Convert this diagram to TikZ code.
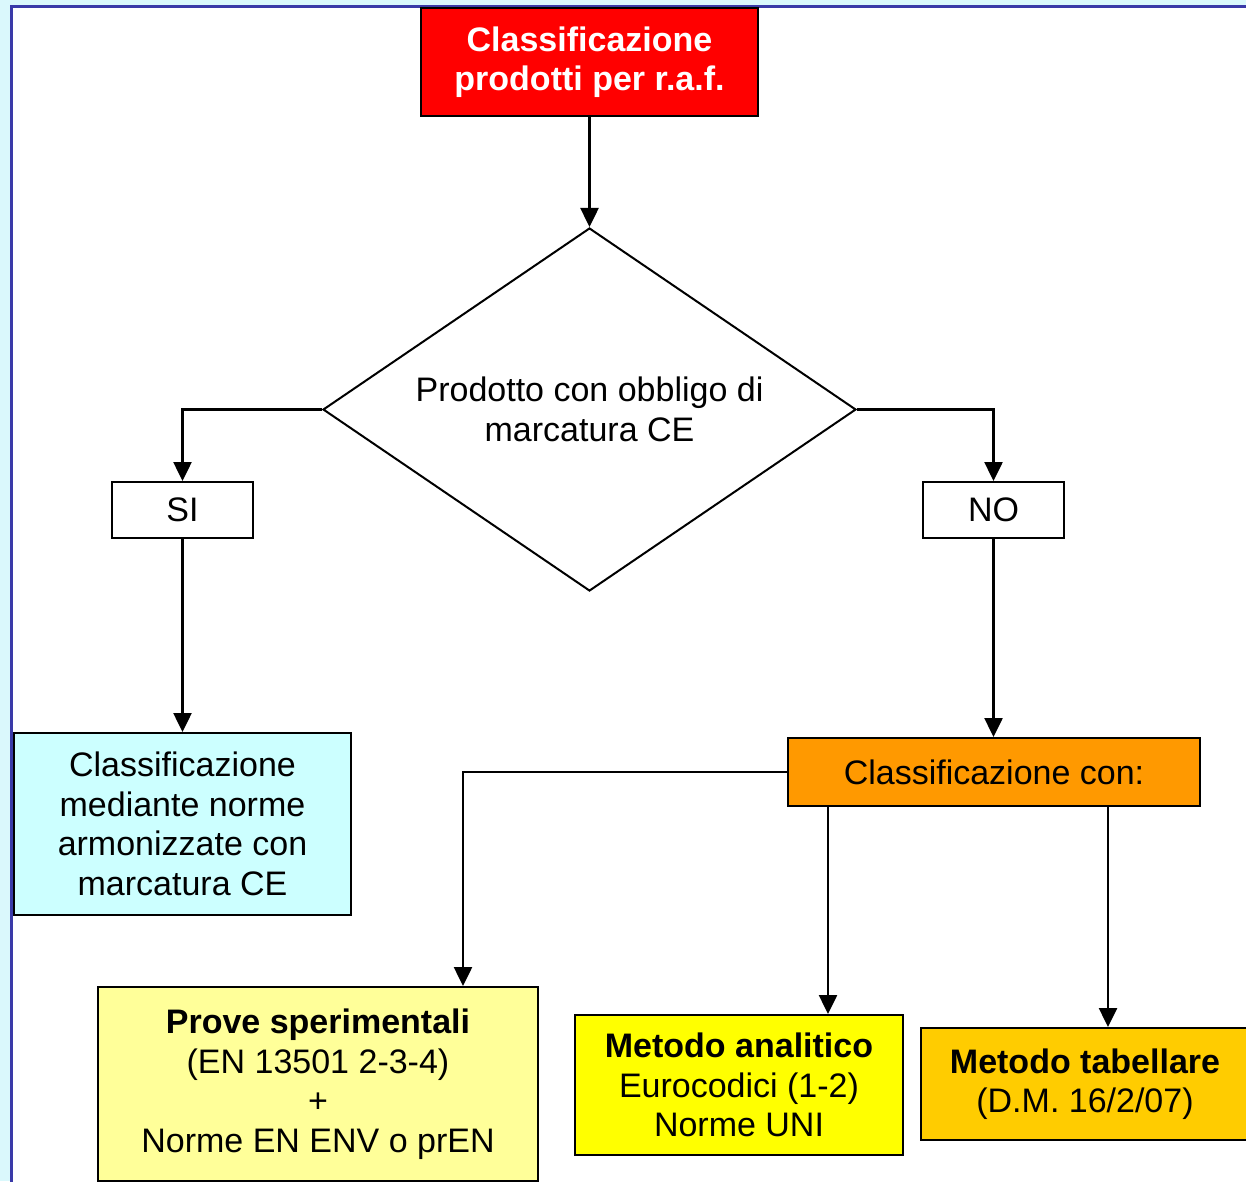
\documentclass[tikz,border=0pt]{standalone}
\usepackage{fontspec}
\setmainfont{Liberation Sans}
\usetikzlibrary{shapes.geometric,arrows.meta}
\definecolor{bgcyan}{HTML}{DAF8FC}
\definecolor{panelblue}{HTML}{3A3AA8}
\definecolor{boxcyan}{HTML}{CCFFFF}
\definecolor{boxorange}{HTML}{FF9900}
\definecolor{boxlight}{HTML}{FFFF99}
\definecolor{boxyellow}{HTML}{FFFF00}
\definecolor{boxgold}{HTML}{FFCC00}
\definecolor{boxred}{HTML}{FF0000}
\tikzset{
  txt/.style={font=\fontsize{34}{39.5}\selectfont, align=center, text=black},
  box/.style={txt, draw=black, line width=2pt, inner sep=0pt, rectangle},
  arr/.style={line width=2.5pt, -{Triangle[length=19pt,width=18pt]}},
  ln/.style={line width=2.5pt}
}
\begin{document}
\begin{tikzpicture}[x=1pt,y=-1pt]
\path[use as bounding box] (0,0) rectangle (1246,1181);
\clip (0,0) rectangle (1246,1181);
\fill[bgcyan] (0,0) rectangle (1246,1181);
\draw[panelblue, fill=white, line width=2.5pt] (11.5,1200) -- (11.5,6.5) -- (1260,6.5) -- (1260,1200) -- cycle;

\node[box, fill=boxred, text=white, font=\fontsize{34}{39.5}\selectfont\bfseries, minimum width=337, minimum height=108] (raf) at (589.5,62) {Classificazione\\prodotti per r.a.f.};
\node[txt, draw=black, line width=2pt, shape=diamond, aspect=1.47, inner sep=0pt, minimum width=533, minimum height=363] (dia) at (589.5,409.5) {Prodotto con obbligo di\\marcatura CE};
\node[box, fill=white, minimum width=141, minimum height=56] (si) at (182.5,510) {SI};
\node[box, fill=white, minimum width=141, minimum height=56] (no) at (993.5,510) {NO};
\node[box, fill=boxcyan, minimum width=337, minimum height=182] (cce) at (182.5,824) {Classificazione\\mediante norme\\armonizzate con\\marcatura CE};
\node[box, fill=boxorange, minimum width=412, minimum height=68] (con) at (994,772) {Classificazione con:};
\node[box, fill=boxlight, minimum width=440, minimum height=194] (prove) at (318,1084) {\textbf{Prove sperimentali}\\(EN 13501 2-3-4)\\+\\Norme EN ENV o prEN};
\node[box, fill=boxyellow, minimum width=328, minimum height=140] (ana) at (739,1085) {\textbf{Metodo analitico}\\Eurocodici (1-2)\\Norme UNI};
\node[box, fill=boxgold, minimum width=328, minimum height=112] (tab) at (1085,1084) {\textbf{Metodo tabellare}\\(D.M. 16/2/07)};

\draw[arr] (raf) -- (dia);
\draw[arr] (dia.west) -| (si);
\draw[arr] (dia.east) -| (no);
\draw[arr] (si) -- (cce);
\draw[arr] (no.south) -- (no.south |- con.north);
\draw[arr] (con.west) -| ([xshift=145pt]prove.north);
\draw[arr] ([xshift=-166pt]con.south) -- ([xshift=-166pt]con.south |- ana.north);
\draw[arr] ([xshift=114pt]con.south) -- ([xshift=114pt]con.south |- tab.north);
\end{tikzpicture}
\end{document}
